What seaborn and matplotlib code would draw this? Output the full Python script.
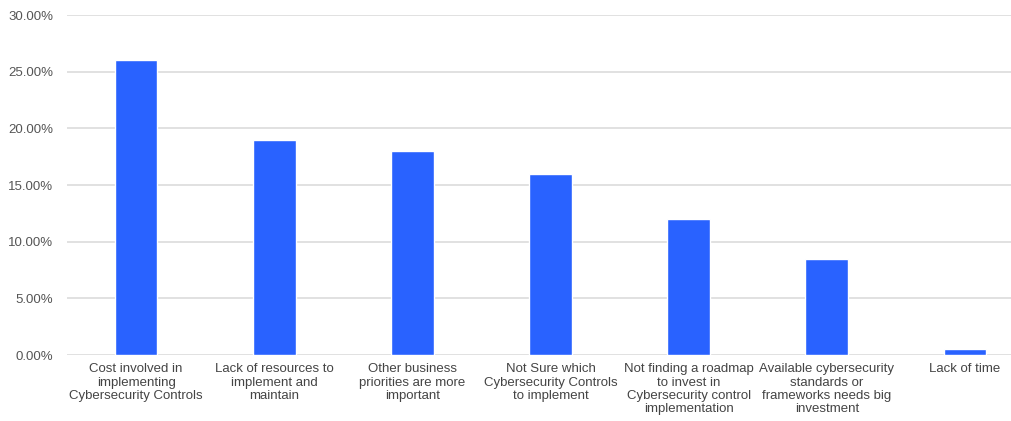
import matplotlib
matplotlib.use("Agg")
import matplotlib.pyplot as plt
import seaborn as sns
import pandas as pd
from matplotlib.ticker import FuncFormatter, MultipleLocator

categories = [
    "Cost involved in\nimplementing\nCybersecurity Controls",
    "Lack of resources to\nimplement and\nmaintain",
    "Other business\npriorities are more\nimportant",
    "Not Sure which\nCybersecurity Controls\nto implement",
    "Not finding a roadmap\nto invest in\nCybersecurity control\nimplementation",
    "Available cybersecurity\nstandards or\nframeworks needs big\ninvestment",
    "Lack of time",
]
values = [26.0, 19.0, 18.0, 16.0, 12.0, 8.5, 0.5]

df = pd.DataFrame({"cat": categories, "val": values})

sns.set_theme(style="white")
plt.rcParams["font.family"] = ["Liberation Sans", "DejaVu Sans"]

fig = plt.figure(figsize=(10.11, 4.21), dpi=100)
ax = fig.add_axes([67 / 1011, 66 / 421, (1034 - 67) / 1011, 340 / 421])

sns.barplot(data=df, x="cat", y="val", color="#2962FF", width=0.31,
            saturation=1, ax=ax, zorder=3)

ax.set_ylim(0, 30)
ax.set_xlim(-0.5, len(categories) - 0.5)
ax.yaxis.set_major_locator(MultipleLocator(5))
ax.yaxis.set_major_formatter(FuncFormatter(lambda v, p: f"{v:.2f}%"))
ax.grid(axis="y", color="#dcdcdc", linewidth=1.2, zorder=0)
ax.set_axisbelow(True)
for s in ax.spines.values():
    s.set_visible(False)
ax.set_xlabel("")
ax.set_ylabel("")
ax.tick_params(axis="y", length=0, labelsize=9.5, labelcolor="#555555", pad=10)
ax.tick_params(axis="x", length=0, labelsize=9.5, labelcolor="#444444", pad=6)
for lbl in ax.get_xticklabels():
    lbl.set_linespacing(1.15)
    lbl.set_verticalalignment("top")

fig.savefig("out.png", dpi=100)
